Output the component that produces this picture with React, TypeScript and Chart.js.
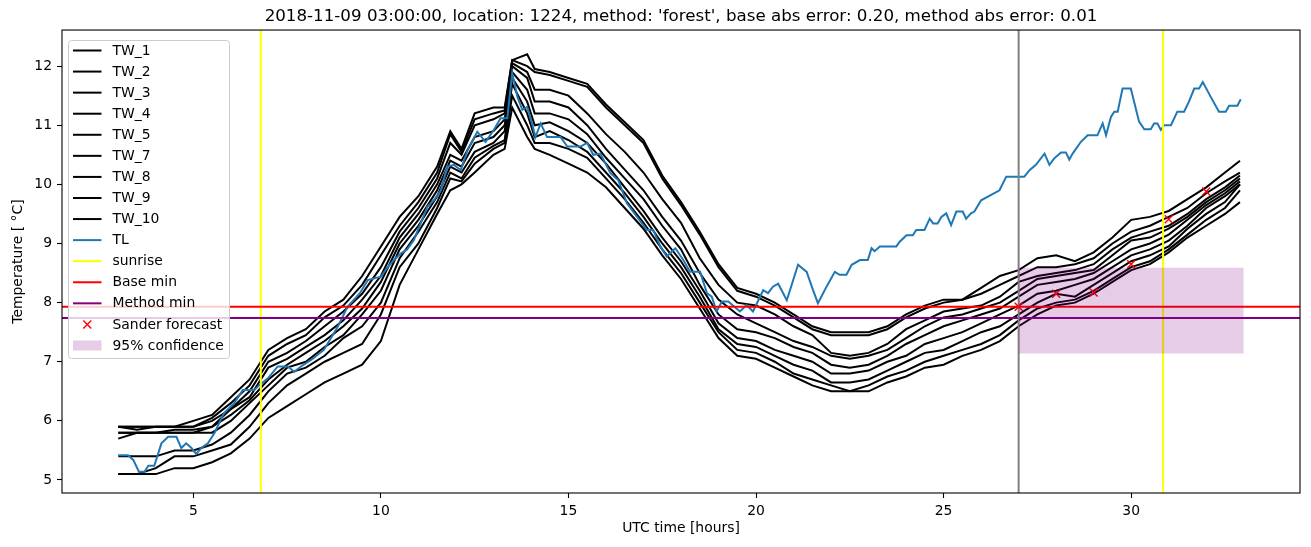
import React, { useEffect, useRef } from "react";
import { Chart, registerables } from "chart.js";

Chart.register(...registerables);

// ---------------- data ----------------
const titleText =
  "2018-11-09 03:00:00, location: 1224, method: 'forest', base abs error: 0.20, method abs error: 0.01";
const xAxisLabel = "UTC time [hours]";
const yAxisLabel = "Temperature [ °C]";

const hours = [
  3, 3.5, 4, 4.5, 5, 5.5, 6, 6.5, 7, 7.5, 8, 8.5, 9, 9.5, 10, 10.5, 11, 11.5,
  11.85, 12.15, 12.5, 13, 13.3, 13.5, 13.9, 14.1, 14.5,
  15, 15.5, 16, 16.5, 17, 17.5, 18, 18.5, 19, 19.5, 20, 20.5, 21, 21.5, 22, 22.5, 23, 23.5,
  24, 24.5, 25, 25.5, 26, 26.5, 27, 27.5, 28, 28.5, 29, 29.5, 30, 30.5, 31, 31.5, 32, 32.5,
  32.9,
];

const TW_1 = [
  5.9, 5.9, 5.9, 5.9, 6.0, 6.1, 6.4, 6.7, 7.2, 7.4, 7.55, 7.85, 8.05, 8.45, 8.95, 9.45, 9.8, 10.3,
  10.9, 10.6, 11.2, 11.3, 11.3, 12.1, 12.2, 11.95, 11.9,
  11.8, 11.7, 11.35, 11.05, 10.75, 10.15, 9.7, 9.2, 8.65, 8.25, 8.15, 8.0, 7.8, 7.6, 7.5, 7.5, 7.5, 7.6,
  7.8, 7.95, 8.05, 8.05, 8.25, 8.45, 8.55, 8.75, 8.8, 8.7, 8.85, 9.1, 9.4, 9.45, 9.55, 9.75, 9.95, 10.2,
  10.4,
];
const TW_2 = [
  5.9, 5.9, 5.9, 5.9, 5.9, 6.05, 6.3, 6.6, 7.1, 7.3, 7.45, 7.75, 7.95, 8.3, 8.8, 9.3, 9.7, 10.2,
  10.85, 10.55, 11.1, 11.2, 11.25, 12.1, 12.0, 11.9, 11.85,
  11.75, 11.65, 11.3, 11.0, 10.7, 10.1, 9.65, 9.15, 8.6, 8.2, 8.1, 7.95, 7.75, 7.55, 7.45, 7.45, 7.45, 7.55,
  7.75, 7.9, 8.0, 8.05, 8.15, 8.3, 8.45, 8.6, 8.6, 8.65, 8.75, 9.0, 9.2, 9.3, 9.45, 9.6, 9.85, 10.05,
  10.2,
];
const TW_3 = [
  5.9, 5.85, 5.9, 5.9, 5.9, 6.0, 6.2, 6.5, 7.0, 7.15, 7.35, 7.6, 7.85, 8.15, 8.6, 9.2, 9.6, 10.1,
  10.7, 10.5, 11.0, 11.1, 11.2, 12.05, 11.9, 11.6, 11.6,
  11.5, 11.2, 10.85, 10.55, 10.2, 9.75, 9.35, 8.75, 8.3, 8.0, 7.95, 7.8, 7.6, 7.45, 7.15, 7.1, 7.15, 7.3,
  7.55, 7.7, 7.85, 7.9, 7.95, 8.1, 8.35, 8.45, 8.5, 8.55, 8.65, 8.9, 9.1, 9.2, 9.3, 9.5, 9.75, 9.95,
  10.15,
];
const TW_4 = [
  5.8, 5.8, 5.8, 5.85, 5.85, 5.9, 6.2, 6.4, 6.9, 7.05, 7.25, 7.45, 7.7, 8.05, 8.45, 9.1, 9.5, 10.0,
  10.5, 10.4, 10.8, 10.9, 11.1, 12.0, 11.8, 11.4, 11.4,
  11.3, 11.0, 10.6, 10.25, 9.9, 9.45, 9.05, 8.5, 8.05, 7.8, 7.65, 7.5, 7.35, 7.25, 7.1, 7.05, 7.1, 7.2,
  7.4, 7.6, 7.75, 7.8, 7.9, 8.0, 8.2, 8.4, 8.45, 8.5, 8.55, 8.8, 9.05, 9.1, 9.25, 9.45, 9.7, 9.9,
  10.1,
];
const TW_5 = [
  5.8, 5.8, 5.8, 5.8, 5.8, 5.9, 6.1, 6.35, 6.7, 6.95, 7.15, 7.35, 7.6, 7.9, 8.35, 9.0, 9.4, 9.9,
  10.4, 10.3, 10.7, 10.8, 11.0, 11.9, 11.6, 11.2, 11.2,
  11.1, 10.85, 10.45, 10.1, 9.75, 9.3, 8.9, 8.3, 7.8, 7.55, 7.5, 7.4, 7.25, 7.15, 6.95, 6.9, 6.95, 7.1,
  7.3, 7.45, 7.6, 7.7, 7.8, 7.9, 8.1, 8.3, 8.35, 8.4, 8.5, 8.7, 8.9, 9.0, 9.15, 9.4, 9.65, 9.85,
  10.05,
];
const TW_7 = [
  5.7, 5.8, 5.8, 5.8, 5.8, 5.8, 6.0, 6.3, 6.6, 6.9, 7.0, 7.25, 7.45, 7.8, 8.2, 8.9, 9.3, 9.8,
  10.3, 10.2, 10.55, 10.7, 10.9, 11.8, 11.4, 11.0, 11.05,
  10.9, 10.7, 10.35, 9.95, 9.55, 9.1, 8.7, 8.2, 7.65, 7.4, 7.35, 7.2, 7.1, 7.0, 6.8, 6.8, 6.85, 7.0,
  7.1, 7.3, 7.4, 7.5, 7.65, 7.8, 7.95, 8.15, 8.2, 8.3, 8.4, 8.6, 8.8, 8.9, 9.05, 9.3, 9.6, 9.8,
  10.0,
];
const TW_8 = [
  5.4, 5.4, 5.4, 5.5, 5.5, 5.6, 5.8, 6.1, 6.5, 6.8, 6.9, 7.1, 7.4, 7.6, 8.0, 8.75, 9.2, 9.7,
  10.2, 10.1, 10.45, 10.65, 10.75, 11.7, 11.2, 10.8, 10.9,
  10.75, 10.55, 10.2, 9.85, 9.45, 9.0, 8.6, 8.1, 7.55, 7.3, 7.25, 7.1, 6.95, 6.85, 6.65, 6.65, 6.7, 6.85,
  7.0, 7.15, 7.2, 7.35, 7.5, 7.6, 7.8, 8.0, 8.15, 8.1, 8.3, 8.5, 8.7, 8.8, 8.95, 9.25, 9.5, 9.7,
  10.0,
];
const TW_9 = [
  5.1, 5.1, 5.2, 5.4, 5.4, 5.5, 5.6, 5.9, 6.3, 6.6, 6.8, 7.0, 7.15, 7.3, 7.8, 8.6, 9.0, 9.6,
  10.1, 10.05, 10.35, 10.6, 10.7, 11.5, 11.0, 10.7, 10.7,
  10.6, 10.45, 10.1, 9.75, 9.35, 8.9, 8.5, 8.0, 7.5, 7.2, 7.15, 7.0, 6.8, 6.7, 6.6, 6.5, 6.6, 6.75,
  6.85, 7.0, 7.1, 7.2, 7.3, 7.45, 7.7, 7.9, 8.0, 8.05, 8.2, 8.4, 8.6, 8.7, 8.9, 9.15, 9.4, 9.6,
  9.9,
];
const TW_10 = [
  5.1, 5.1, 5.1, 5.2, 5.2, 5.3, 5.45, 5.7, 6.05, 6.25, 6.45, 6.65, 6.8, 6.95, 7.35, 8.3, 8.9, 9.5,
  9.9, 10.0, 10.2, 10.5, 10.6, 11.3, 10.8, 10.6, 10.5,
  10.35, 10.2, 9.95, 9.6, 9.25, 8.8, 8.4, 7.9, 7.4, 7.1, 7.05, 6.9, 6.75, 6.6, 6.5, 6.5, 6.5, 6.65,
  6.75, 6.9, 6.95, 7.1, 7.2, 7.35, 7.6, 7.8, 7.95, 8.0, 8.15, 8.35, 8.55, 8.65, 8.85, 9.1, 9.3, 9.5,
  9.7,
];

const twSeries = [
  { label: "TW_1", values: TW_1 },
  { label: "TW_2", values: TW_2 },
  { label: "TW_3", values: TW_3 },
  { label: "TW_4", values: TW_4 },
  { label: "TW_5", values: TW_5 },
  { label: "TW_7", values: TW_7 },
  { label: "TW_8", values: TW_8 },
  { label: "TW_9", values: TW_9 },
  { label: "TW_10", values: TW_10 },
];

const tlHours = [
  3.0, 3.26, 3.4, 3.55, 3.7, 3.8, 3.96, 4.15, 4.33, 4.55,
  4.68, 4.81, 4.95, 5.08, 5.21, 5.39, 5.56, 5.82, 6.09, 6.32,
  6.62, 6.81, 6.99, 7.25, 7.52, 7.69, 7.87, 8.14, 8.48, 8.85,
  9.11, 9.44, 9.65, 10.0, 10.18, 10.35, 10.53, 10.7, 10.88, 11.06,
  11.24, 11.41, 11.6, 11.77, 11.95, 12.13, 12.31, 12.57, 12.79, 13.01,
  13.19, 13.37, 13.5, 13.64, 13.77, 13.9, 14.03, 14.12, 14.26, 14.43,
  14.79, 14.97, 15.32, 15.5, 15.66, 15.85, 16.12, 16.33, 16.56, 16.83,
  17.09, 17.26, 17.45, 17.62, 17.85, 18.06, 18.24, 18.51, 18.69, 18.82,
  18.95, 19.09, 19.26, 19.57, 19.75, 19.92, 20.19, 20.32, 20.45, 20.59,
  20.82, 21.12, 21.35, 21.52, 21.65, 21.88, 22.1, 22.23, 22.41, 22.55,
  22.77, 22.98, 23.08, 23.16, 23.3, 23.74, 23.83, 24.01, 24.18, 24.27,
  24.49, 24.63, 24.72, 24.84, 24.94, 25.07, 25.2, 25.34, 25.51, 25.6,
  25.73, 25.82, 26.0, 26.49, 26.67, 27.15, 27.29, 27.46, 27.69, 27.82,
  27.95, 28.13, 28.26, 28.35, 28.44, 28.66, 28.84, 29.1, 29.24, 29.33,
  29.46, 29.55, 29.64, 29.77, 29.99, 30.21, 30.35, 30.52, 30.61, 30.7,
  30.79, 30.88, 31.06, 31.23, 31.41, 31.54, 31.68, 31.81, 31.91, 32.12,
  32.34, 32.52, 32.61, 32.83, 32.92,
];
const tlValues = [
  5.42, 5.42, 5.34, 5.14, 5.14, 5.24, 5.24, 5.62, 5.73, 5.73,
  5.54, 5.62, 5.54, 5.44, 5.54, 5.62, 5.79, 6.13, 6.3, 6.52,
  6.52, 6.63, 6.72, 6.92, 6.92, 6.83, 6.92, 7.03, 7.2, 7.59,
  7.93, 8.16, 8.38, 8.44, 8.6, 8.72, 8.83, 8.9, 9.06, 9.34,
  9.62, 9.73, 9.9, 10.3, 10.33, 10.24, 10.58, 10.89, 10.72, 10.92,
  11.12, 11.12, 11.88, 11.48, 11.26, 11.31, 11.03, 10.8, 11.03, 10.8,
  10.8, 10.64, 10.64, 10.7, 10.5, 10.52, 10.19, 10.07, 9.68, 9.45,
  9.23, 9.23, 8.95, 8.78, 8.92, 8.72, 8.52, 8.52, 8.16, 8.1,
  7.85, 8.02, 8.02, 7.85, 7.96, 7.85, 8.21, 8.16, 8.27, 8.32,
  8.04, 8.64, 8.52, 8.21, 7.99, 8.27, 8.52, 8.47, 8.47, 8.64,
  8.72, 8.72, 8.92, 8.87, 8.95, 8.95, 9.03, 9.14, 9.14, 9.23,
  9.23, 9.42, 9.34, 9.34, 9.45, 9.51, 9.31, 9.54, 9.54, 9.42,
  9.51, 9.54, 9.73, 9.9, 10.13, 10.13, 10.24, 10.33, 10.52, 10.33,
  10.44, 10.54, 10.54, 10.42, 10.52, 10.72, 10.83, 10.83, 11.03, 10.83,
  11.14, 11.23, 11.23, 11.62, 11.62, 11.06, 10.93, 10.93, 11.03, 11.03,
  10.92, 11.0, 11.0, 11.23, 11.23, 11.4, 11.62, 11.62, 11.73, 11.48,
  11.23, 11.23, 11.33, 11.33, 11.44,
];

const sunriseHours = [6.8, 30.85];
const forecastHour = 27.0;
const baseMin = 7.93;
const methodMin = 7.74;
const sanderHours = [27, 28, 29, 30, 31, 32];
const sanderValues = [7.93, 8.15, 8.17, 8.65, 9.41, 9.88];
const confidenceHours = [27, 33];
const confidenceLow = 7.14;
const confidenceHigh = 8.59;

const xTickValues = [5, 10, 15, 20, 25, 30];
const yTickValues = [5, 6, 7, 8, 9, 10, 11, 12];
const xRange = [1.5, 34.5];
const yRange = [4.78, 12.61];

// ---------------- styles ----------------
const FONT = "'DejaVu Sans', 'Liberation Sans', sans-serif";
const TL_COLOR = "#1f77b4";
const CONF_COLOR = "rgba(128,0,128,0.2)";

const legendEntries: any[] = [
  ...twSeries.map((s) => ({ label: s.label, kind: "line", color: "#000000" })),
  { label: "TL", kind: "line", color: TL_COLOR },
  { label: "sunrise", kind: "line", color: "#ffff00" },
  { label: "Base min", kind: "line", color: "#ff0000" },
  { label: "Method min", kind: "line", color: "#800080" },
  { label: "Sander forecast", kind: "cross", color: "#ff0000" },
  { label: "95% confidence", kind: "patch", color: CONF_COLOR },
];

const framePlugin = {
  id: "mplFrame",
  afterDatasetsDraw(chart: any) {
    const { ctx, chartArea } = chart;
    const { left, top, right, bottom } = chartArea;
    ctx.save();
    ctx.strokeStyle = "#000";
    ctx.lineWidth = 1.1;
    ctx.strokeRect(left, top, right - left, bottom - top);
    ctx.restore();
  },
};

const legendPlugin = {
  id: "mplLegend",
  afterDraw(chart: any) {
    const ctx = chart.ctx;
    const x0 = 68.5, y0 = 40.5, w = 161, h = 318, r = 3;
    ctx.save();
    ctx.beginPath();
    ctx.moveTo(x0 + r, y0);
    ctx.lineTo(x0 + w - r, y0);
    ctx.quadraticCurveTo(x0 + w, y0, x0 + w, y0 + r);
    ctx.lineTo(x0 + w, y0 + h - r);
    ctx.quadraticCurveTo(x0 + w, y0 + h, x0 + w - r, y0 + h);
    ctx.lineTo(x0 + r, y0 + h);
    ctx.quadraticCurveTo(x0, y0 + h, x0, y0 + h - r);
    ctx.lineTo(x0, y0 + r);
    ctx.quadraticCurveTo(x0, y0, x0 + r, y0);
    ctx.closePath();
    ctx.fillStyle = "rgba(255,255,255,0.8)";
    ctx.fill();
    ctx.strokeStyle = "#cccccc";
    ctx.lineWidth = 1;
    ctx.stroke();

    ctx.font = `13.9px ${FONT}`;
    ctx.textBaseline = "middle";
    ctx.textAlign = "left";
    const rowStart = 50.5;
    const rowStep = 21.07;
    legendEntries.forEach((e, i) => {
      const y = rowStart + i * rowStep;
      if (e.kind === "line") {
        ctx.strokeStyle = e.color;
        ctx.lineWidth = 2;
        ctx.beginPath();
        ctx.moveTo(73, y);
        ctx.lineTo(101.5, y);
        ctx.stroke();
      } else if (e.kind === "cross") {
        ctx.strokeStyle = e.color;
        ctx.lineWidth = 1.4;
        const c = 87.3, s = 4;
        ctx.beginPath();
        ctx.moveTo(c - s, y - s);
        ctx.lineTo(c + s, y + s);
        ctx.moveTo(c - s, y + s);
        ctx.lineTo(c + s, y - s);
        ctx.stroke();
      } else {
        ctx.fillStyle = e.color;
        ctx.fillRect(73, y - 5, 28.5, 10);
      }
      ctx.fillStyle = "#000";
      ctx.fillText(e.label, 112.5, y + 0.5);
    });
    ctx.restore();
  },
};

export default function App() {
  const ref = useRef<HTMLCanvasElement>(null);

  useEffect(() => {
    const canvas = ref.current;
    if (!canvas) return;
    const zip = (xs: number[], ys: number[]) => xs.map((x, i) => ({ x, y: ys[i] }));
    const lineDs = (label: string, data: any[], color: string, extra: any = {}) => ({
      type: "line",
      label,
      data,
      borderColor: color,
      backgroundColor: color,
      borderWidth: 2,
      pointRadius: 0,
      pointHoverRadius: 0,
      tension: 0,
      fill: false,
      ...extra,
    });

    const datasets: any[] = [];
    twSeries.forEach((s) => datasets.push(lineDs(s.label, zip(hours, s.values), "#000000")));
    datasets.push(lineDs("TL", zip(tlHours, tlValues), TL_COLOR));
    sunriseHours.forEach((hr, i) =>
      datasets.push(
        lineDs(i === 0 ? "sunrise" : "sunrise ", [
          { x: hr, y: yRange[0] },
          { x: hr, y: yRange[1] },
        ], "#ffff00")
      )
    );
    datasets.push(
      lineDs("Base min", [
        { x: xRange[0], y: baseMin },
        { x: xRange[1], y: baseMin },
      ], "#ff0000")
    );
    datasets.push(
      lineDs("Method min", [
        { x: xRange[0], y: methodMin },
        { x: xRange[1], y: methodMin },
      ], "#800080")
    );
    datasets.push(
      lineDs("forecast time", [
        { x: forecastHour, y: yRange[0] },
        { x: forecastHour, y: yRange[1] },
      ], "#808080")
    );
    datasets.push({
      type: "line",
      label: "Sander forecast",
      data: zip(sanderHours, sanderValues),
      showLine: false,
      pointStyle: "crossRot",
      pointRadius: 5.6,
      pointHoverRadius: 5.6,
      pointBorderWidth: 1.4,
      borderWidth: 1.4,
      borderColor: "#ff0000",
      backgroundColor: "#ff0000",
    });
    datasets.push({
      type: "line",
      label: "95% confidence",
      data: confidenceHours.map((hr) => ({ x: hr, y: confidenceHigh })),
      borderWidth: 0,
      borderColor: "rgba(0,0,0,0)",
      backgroundColor: CONF_COLOR,
      pointRadius: 0,
      tension: 0,
      fill: { value: confidenceLow },
    });
    const n = datasets.length;
    datasets.forEach((d, i) => {
      d.order = n - i;
    });

    const zeroPad = (s: any) => {
      s.paddingLeft = 0;
      s.paddingRight = 0;
      s.paddingTop = 0;
      s.paddingBottom = 0;
    };

    const chart = new Chart(canvas, {
      type: "line",
      data: { datasets },
      plugins: [framePlugin, legendPlugin],
      options: {
        responsive: false,
        animation: false,
        events: [],
        layout: { padding: { left: 0, right: 11, top: 0, bottom: 0 } },
        plugins: {
          legend: { display: false },
          tooltip: { enabled: false },
          title: {
            display: true,
            fullSize: false,
            text: titleText,
            color: "#000",
            font: { family: FONT, size: 16.7, weight: "normal", lineHeight: 1.2 },
            padding: { top: 7, bottom: 3 },
          },
        },
        scales: {
          x: {
            type: "linear",
            min: xRange[0],
            max: xRange[1],
            afterBuildTicks: (s: any) => {
              s.ticks = xTickValues.map((v) => ({ value: v }));
            },
            afterFit: (s: any) => {
              s.height = 54;
              zeroPad(s);
            },
            grid: {
              display: true,
              drawOnChartArea: false,
              drawTicks: true,
              tickLength: 5,
              tickWidth: 1.1,
              tickColor: "#000",
            },
            border: { display: false },
            ticks: {
              color: "#000",
              font: { family: FONT, size: 13.9 },
              padding: 5,
              maxRotation: 0,
              autoSkip: false,
              callback: (v: any) => String(v),
            },
            title: {
              display: true,
              text: xAxisLabel,
              color: "#000",
              font: { family: FONT, size: 13.9 },
              padding: { top: 0, bottom: 10 },
            },
          },
          y: {
            type: "linear",
            min: yRange[0],
            max: yRange[1],
            afterBuildTicks: (s: any) => {
              s.ticks = yTickValues.map((v) => ({ value: v }));
            },
            afterFit: (s: any) => {
              s.width = 62;
              zeroPad(s);
            },
            grid: {
              display: true,
              drawOnChartArea: false,
              drawTicks: true,
              tickLength: 5,
              tickWidth: 1.1,
              tickColor: "#000",
            },
            border: { display: false },
            ticks: {
              color: "#000",
              font: { family: FONT, size: 13.9 },
              padding: 5,
              autoSkip: false,
              callback: (v: any) => String(v),
            },
            title: {
              display: true,
              text: yAxisLabel,
              color: "#000",
              font: { family: FONT, size: 13.9 },
              padding: { top: 10, bottom: 0 },
            },
          },
        },
      } as any,
    } as any);

    return () => {
      chart.destroy();
    };
  }, []);

  return (
    <div
      style={{
        position: "fixed",
        left: 0,
        top: 0,
        width: 1311,
        height: 547,
        background: "#ffffff",
      }}
    >
      <canvas
        ref={ref}
        width={1311}
        height={547}
        style={{ display: "block", width: 1311, height: 547 }}
      />
    </div>
  );
}
